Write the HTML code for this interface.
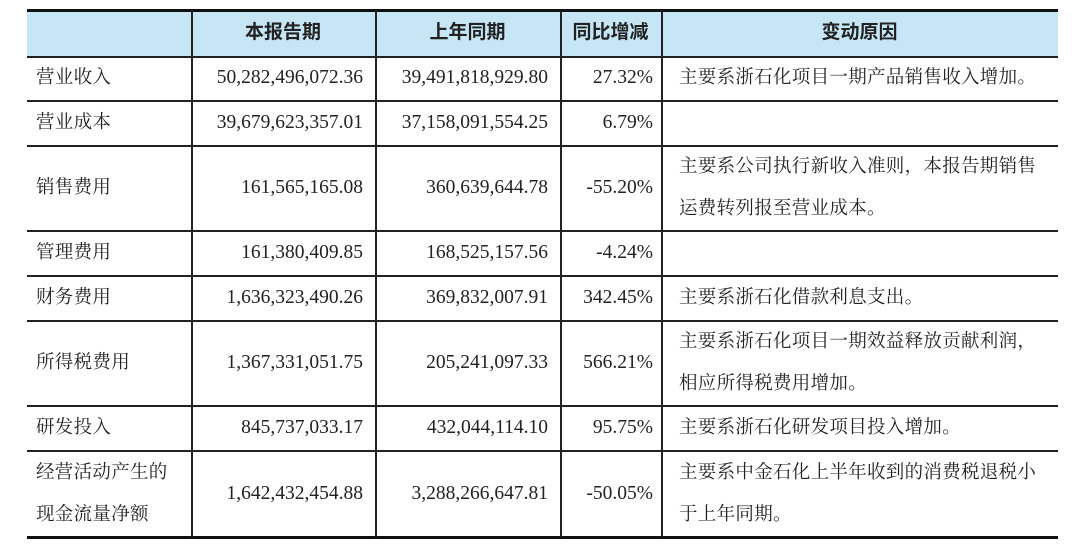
<!DOCTYPE html>
<html><head><meta charset="utf-8"><style>
body{margin:0;width:1080px;height:547px;background:#fff;overflow:hidden;font-family:"Liberation Serif","Noto Serif CJK SC",serif;color:#222}
.c{position:absolute;font-size:19.5px;white-space:nowrap;line-height:40px}
.h{font-family:"Liberation Sans","Noto Sans CJK SC",sans-serif;font-weight:bold;text-align:center;font-size:19px}
.cj{font-size:18.5px;letter-spacing:0.3px}
.vl{position:absolute;width:1.5px;background:#222}
.hl{position:absolute;left:27px;width:1031px;height:1.5px;background:#222}
</style></head><body>
<div></div>
<script>
const rowsY=[56,100,145,230,275,320,405,450,537];
const cols=[27,191,375,560,661,1058];
const headers=["","本报告期","上年同期","同比增减","变动原因"];
const items=["营业收入","营业成本","销售费用","管理费用","财务费用","所得税费用","研发投入","经营活动产生的|现金流量净额"];
const current=["50,282,496,072.36","39,679,623,357.01","161,565,165.08","161,380,409.85","1,636,323,490.26","1,367,331,051.75","845,737,033.17","1,642,432,454.88"];
const previous=["39,491,818,929.80","37,158,091,554.25","360,639,644.78","168,525,157.56","369,832,007.91","205,241,097.33","432,044,114.10","3,288,266,647.81"];
const change=["27.32%","6.79%","-55.20%","-4.24%","342.45%","566.21%","95.75%","-50.05%"];
const reasons=["主要系浙石化项目一期产品销售收入增加。","","主要系公司执行新收入准则，本报告期销售|运费转列报至营业成本。","","主要系浙石化借款利息支出。","主要系浙石化项目一期效益释放贡献利润，|相应所得税费用增加。","主要系浙石化研发项目投入增加。","主要系中金石化上半年收到的消费税退税小|于上年同期。"];
const B=document.body;
function div(cls,name,css,html){const d=document.createElement('div');d.className=cls;d.style.cssText=css;if(html!==undefined)d.innerHTML=html;


B.appendChild(d);return d;}
div('','header-bg','position:absolute;left:27px;top:11px;width:1031px;height:45px;background:#c6e6f6');
div('','top-border','position:absolute;left:27px;top:9px;width:1031px;height:3px;background:#111');
div('','bottom-border','position:absolute;left:27px;top:536px;width:1031px;height:3px;background:#111');
for(let i=0;i<rowsY.length-1;i++) div('hl','row-line','top:'+rowsY[i]+'px');
for(let j=1;j<5;j++) div('vl','column-line','left:'+cols[j]+'px;top:11px;height:526px');
for(let j=1;j<5;j++) div('c h','header-'+j,'left:'+cols[j]+'px;width:'+(cols[j+1]-cols[j])+'px;top:13px',headers[j]);
function multi(s){return s.split('|').join('<br>');}
for(let i=0;i<items.length;i++){
 const y0=rowsY[i],y1=rowsY[i+1],h=y1-y0;
 const cs='top:'+y0+'px;height:'+h+'px;display:flex;align-items:center;line-height:42px;';
 div('c cj','item-label',cs+'left:36px;',multi(items[i]));
 div('c','current-value',cs+'left:'+cols[1]+'px;width:'+(cols[2]-cols[1]-12)+'px;justify-content:flex-end;',current[i]);
 div('c','previous-value',cs+'left:'+cols[2]+'px;width:'+(cols[3]-cols[2]-12)+'px;justify-content:flex-end;',previous[i]);
 div('c','yoy-change',cs+'left:'+cols[3]+'px;width:'+(cols[4]-cols[3]-8)+'px;justify-content:flex-end;',change[i]);
 div('c cj','change-reason',cs+'left:'+(cols[4]+18)+'px;',multi(reasons[i]));
}
</script>
</body></html>
